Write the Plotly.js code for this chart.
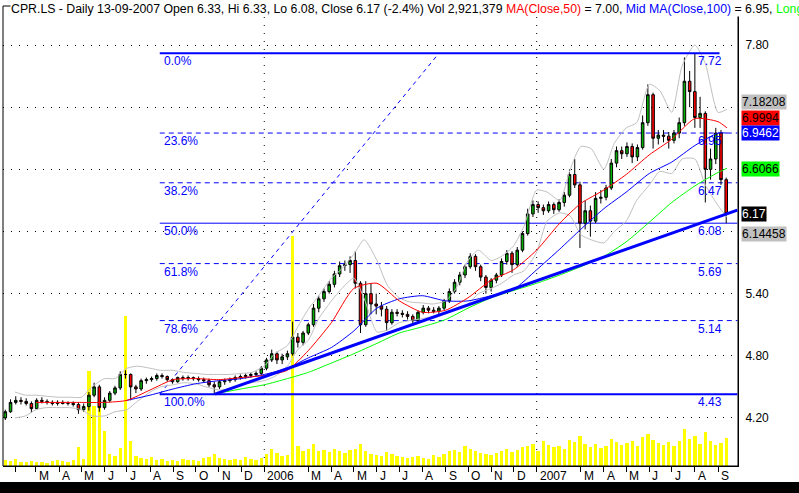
<!DOCTYPE html>
<html><head><meta charset="utf-8">
<script src="https://cdn.plot.ly/plotly-3.0.1.min.js"></script>
<style>html,body{margin:0;padding:0;background:#fff;overflow:hidden}#chart{width:799px;height:493px}</style>
</head><body><div id="chart"></div>
<script>
// ---- weekly candles (Wednesday of each week) ----
const weekDates = [
"2005-01-19","2005-01-26","2005-02-02","2005-02-09","2005-02-16","2005-02-23","2005-03-02","2005-03-09","2005-03-16","2005-03-23","2005-03-30",
"2005-04-06","2005-04-13","2005-04-20","2005-04-27","2005-05-04","2005-05-11","2005-05-18","2005-05-25","2005-06-01","2005-06-08","2005-06-15",
"2005-06-22","2005-06-29","2005-07-06","2005-07-13","2005-07-20","2005-07-27","2005-08-03","2005-08-10","2005-08-17","2005-08-24","2005-08-31",
"2005-09-07","2005-09-14","2005-09-21","2005-09-28","2005-10-05","2005-10-12","2005-10-19","2005-10-26","2005-11-02","2005-11-09","2005-11-16",
"2005-11-23","2005-11-30","2005-12-07","2005-12-14","2005-12-21","2005-12-28",
"2006-01-04","2006-01-11","2006-01-18","2006-01-25","2006-02-01","2006-02-08","2006-02-15","2006-02-22","2006-03-01","2006-03-08","2006-03-15",
"2006-03-22","2006-03-29","2006-04-05","2006-04-12","2006-04-19","2006-04-26","2006-05-03","2006-05-10","2006-05-17","2006-05-24","2006-05-31",
"2006-06-07","2006-06-14","2006-06-21","2006-06-28","2006-07-05","2006-07-12","2006-07-19","2006-07-26","2006-08-02","2006-08-09","2006-08-16",
"2006-08-23","2006-08-30","2006-09-06","2006-09-13","2006-09-20","2006-09-27","2006-10-04","2006-10-11","2006-10-18","2006-10-25","2006-11-01",
"2006-11-08","2006-11-15","2006-11-22","2006-11-29","2006-12-06","2006-12-13","2006-12-20","2006-12-27",
"2007-01-03","2007-01-10","2007-01-17","2007-01-24","2007-01-31","2007-02-07","2007-02-14","2007-02-21","2007-02-28","2007-03-07","2007-03-14",
"2007-03-21","2007-03-28","2007-04-04","2007-04-11","2007-04-18","2007-04-25","2007-05-02","2007-05-09","2007-05-16","2007-05-23","2007-05-30",
"2007-06-06","2007-06-13","2007-06-20","2007-06-27","2007-07-04","2007-07-11","2007-07-18","2007-07-25","2007-08-01","2007-08-08","2007-08-15",
"2007-08-22","2007-08-29","2007-09-05","2007-09-12"];
const openP = [4.20,4.26,4.35,4.37,4.36,4.34,4.29,4.37,4.36,4.35,4.34,4.35,4.34,4.34,4.33,4.28,4.31,4.42,4.50,4.30,4.37,4.44,4.49,4.62,4.62,4.50,4.48,4.56,4.57,4.58,4.61,4.60,4.57,4.55,4.59,4.58,4.59,4.58,4.57,4.56,4.52,4.50,4.55,4.56,4.57,4.59,4.60,4.61,4.62,4.63,
4.68,4.76,4.82,4.76,4.79,4.82,4.98,4.93,5.02,5.10,5.26,5.35,5.42,5.49,5.59,5.67,5.68,5.72,5.50,5.10,5.40,5.30,5.28,5.25,5.12,5.22,5.21,5.20,5.18,5.14,5.22,5.26,5.24,5.23,5.26,5.33,5.42,5.51,5.58,5.66,5.76,5.66,5.56,5.46,5.53,5.58,5.71,5.79,5.68,5.82,5.98,6.17,
6.26,6.23,6.20,6.26,6.21,6.28,6.35,6.55,6.45,6.08,6.20,6.10,6.32,6.33,6.42,6.66,6.78,6.75,6.82,6.72,6.81,7.05,7.32,6.90,6.93,6.92,6.88,6.95,7.05,7.45,7.35,7.10,7.14,6.60,6.70,6.95,6.50];
const highP = [4.28,4.38,4.41,4.40,4.39,4.36,4.39,4.40,4.38,4.37,4.37,4.37,4.36,4.36,4.35,4.34,4.45,4.54,4.52,4.40,4.46,4.51,4.65,4.66,4.63,4.52,4.58,4.59,4.60,4.63,4.63,4.61,4.58,4.60,4.61,4.61,4.60,4.60,4.59,4.58,4.55,4.57,4.58,4.59,4.61,4.62,4.63,4.64,4.65,4.70,
4.78,4.86,4.84,4.82,4.85,5.13,5.02,5.04,5.12,5.30,5.38,5.45,5.52,5.62,5.71,5.72,5.76,5.81,5.52,5.52,5.50,5.40,5.32,5.28,5.25,5.25,5.24,5.23,5.20,5.24,5.29,5.28,5.27,5.28,5.35,5.45,5.54,5.61,5.68,5.79,5.78,5.68,5.58,5.55,5.60,5.74,5.82,5.81,5.85,6.00,6.22,6.30,
6.29,6.26,6.29,6.28,6.31,6.38,6.60,6.70,6.48,6.30,6.25,6.38,6.40,6.45,6.70,6.82,6.82,6.86,6.85,6.84,7.12,7.42,7.34,6.98,6.98,6.96,6.98,7.10,7.68,7.55,7.72,7.30,7.16,6.80,7.00,6.98,6.52];
const lowP = [4.18,4.25,4.33,4.33,4.32,4.25,4.28,4.34,4.33,4.32,4.32,4.33,4.32,4.31,4.24,4.26,4.27,4.40,4.26,4.28,4.35,4.42,4.47,4.58,4.37,4.44,4.46,4.53,4.55,4.56,4.58,4.55,4.53,4.54,4.56,4.56,4.56,4.55,4.54,4.50,4.43,4.48,4.52,4.54,4.55,4.57,4.58,4.59,4.60,4.61,
4.66,4.74,4.72,4.72,4.76,4.80,4.88,4.90,5.00,5.08,5.22,5.32,5.40,5.46,5.56,5.62,5.60,5.45,5.02,5.08,5.20,5.20,5.18,5.04,5.10,5.18,5.17,5.15,5.09,5.12,5.20,5.21,5.21,5.20,5.24,5.31,5.40,5.48,5.55,5.64,5.62,5.52,5.40,5.42,5.50,5.56,5.68,5.60,5.66,5.80,5.96,6.14,
6.18,6.16,6.18,6.17,6.19,6.24,6.33,6.42,5.84,6.02,5.95,6.08,6.27,6.30,6.40,6.62,6.70,6.72,6.66,6.68,6.79,7.02,6.80,6.84,6.86,6.80,6.85,6.90,7.02,7.20,7.00,7.00,6.28,6.50,6.65,6.45,6.08];
const closeP = [4.26,4.35,4.37,4.36,4.34,4.29,4.37,4.36,4.35,4.34,4.35,4.34,4.34,4.33,4.28,4.31,4.42,4.50,4.30,4.37,4.44,4.49,4.62,4.62,4.50,4.48,4.56,4.57,4.58,4.61,4.60,4.57,4.55,4.59,4.58,4.59,4.58,4.57,4.56,4.52,4.50,4.55,4.56,4.57,4.59,4.60,4.61,4.62,4.63,4.68,
4.76,4.82,4.76,4.79,4.82,4.98,4.93,5.02,5.10,5.26,5.35,5.42,5.49,5.59,5.67,5.68,5.72,5.50,5.10,5.40,5.30,5.28,5.25,5.12,5.22,5.21,5.20,5.18,5.14,5.22,5.26,5.24,5.23,5.26,5.33,5.42,5.51,5.58,5.66,5.76,5.66,5.56,5.46,5.53,5.58,5.71,5.79,5.68,5.82,5.98,6.17,6.26,
6.23,6.20,6.26,6.21,6.28,6.35,6.55,6.45,6.08,6.20,6.10,6.32,6.33,6.42,6.66,6.78,6.75,6.82,6.72,6.81,7.05,7.32,6.90,6.93,6.92,6.88,6.95,7.05,7.45,7.35,7.10,7.14,6.60,6.70,6.95,6.50,6.17];
// weekly volume, millions of shares
const volume = [1.2,1.0,1.4,0.8,0.9,1.0,0.8,0.9,0.7,1.0,1.2,1.0,0.9,1.3,
3.8,1.5,19,12,12,7,2.5,2.0,3.6,30,5,
2.0,1.6,1.4,1.8,1.2,1.5,1.0,1.3,1.1,1.4,1.2,1.3,1.0,1.6,1.8,
2.5,1.6,1.4,1.2,1.5,1.3,1.8,1.4,1.2,1.6,
2.5,3.5,2.6,2.0,2.2,46,
4,3,3.5,4.5,3,3.2,2.8,3.5,3.0,2.6,3.2,
3.4,4.5,3.0,2.5,2.2,2.0,2.8,2.4,2.0,1.8,1.6,1.8,2.0,
1.6,1.5,2.2,1.8,2.5,3.0,3.2,2.8,4.0,3.5,3.0,2.6,2.4,2.2,2.6,3.0,3.4,2.8,3.2,3.8,
4.0,4.5,3.0,5.0,4.2,3.8,4.0,3.5,5.2,4.8,6.0,4.5,3.8,4.4,3.6,4.0,5.5,4.8,4.2,4.6,
5.0,4.0,5.8,6.5,5.2,4.6,4.2,4.8,4.0,5.0,7.5,5.5,6.0,4.5,6.8,5.0,4.2,4.6,5.6];

// ---- moving averages (read monthly) ----
const ma50Dates = ["2005-03-01","2005-04-01","2005-05-01","2005-06-01","2005-07-01","2005-08-01","2005-09-01","2005-10-01","2005-11-01","2005-12-01",
"2006-01-01","2006-02-01","2006-03-01","2006-04-01","2006-05-01","2006-06-01","2006-07-01","2006-08-01","2006-09-01","2006-10-01","2006-11-01","2006-12-01",
"2007-01-01","2007-02-01","2007-03-01","2007-04-01","2007-05-01","2007-06-01","2007-07-01","2007-08-01","2007-09-01","2007-09-13"];
const ma50 = [4.35,4.35,4.35,4.35,4.37,4.47,4.57,4.58,4.57,4.59,4.61,4.66,4.85,5.12,5.45,5.50,5.33,5.22,5.24,5.36,5.53,5.63,5.82,6.08,6.27,6.40,6.55,6.74,6.89,7.09,7.06,7.00];
const ma100Dates = ["2005-07-01","2005-08-01","2005-09-01","2005-10-01","2005-11-01","2005-12-01",
"2006-01-01","2006-02-01","2006-03-01","2006-04-01","2006-05-01","2006-06-01","2006-07-01","2006-08-01","2006-09-01","2006-10-01","2006-11-01","2006-12-01",
"2007-01-01","2007-02-01","2007-03-01","2007-04-01","2007-05-01","2007-06-01","2007-07-01","2007-08-01","2007-09-01","2007-09-13"];
const ma100 = [4.37,4.42,4.48,4.53,4.56,4.58,4.62,4.68,4.78,4.88,5.04,5.26,5.35,5.38,5.33,5.33,5.38,5.44,5.63,5.83,6.02,6.22,6.38,6.56,6.67,6.83,6.95,6.95];
const ma200Dates = ["2005-11-01","2005-12-01",
"2006-01-01","2006-02-01","2006-03-01","2006-04-01","2006-05-01","2006-06-01","2006-07-01","2006-08-01","2006-09-01","2006-10-01","2006-11-01","2006-12-01",
"2007-01-01","2007-02-01","2007-03-01","2007-04-01","2007-05-01","2007-06-01","2007-07-01","2007-08-01","2007-09-01","2007-09-13"];
const ma200 = [4.44,4.48,4.52,4.58,4.64,4.73,4.82,4.92,5.02,5.08,5.15,5.26,5.36,5.43,5.50,5.58,5.66,5.76,5.90,6.09,6.28,6.44,6.57,6.61];

// ---- Bollinger bands (read twice a month) ----
const bbDates = ["2005-02-01","2005-02-15","2005-03-01","2005-03-15","2005-04-01","2005-04-15","2005-05-01","2005-05-15","2005-06-01","2005-06-15","2005-07-01","2005-07-15",
"2005-08-01","2005-08-15","2005-09-01","2005-09-15","2005-10-01","2005-10-15","2005-11-01","2005-11-15","2005-12-01","2005-12-15",
"2006-01-01","2006-01-15","2006-02-01","2006-02-15","2006-03-01","2006-03-15","2006-04-01","2006-04-15","2006-05-01","2006-05-15","2006-06-01","2006-06-15",
"2006-07-01","2006-07-15","2006-08-01","2006-08-15","2006-09-01","2006-09-15","2006-10-01","2006-10-15","2006-11-01","2006-11-15","2006-12-01","2006-12-15",
"2007-01-01","2007-01-15","2007-02-01","2007-02-15","2007-03-01","2007-03-15","2007-04-01","2007-04-15","2007-05-01","2007-05-15","2007-06-01","2007-06-15",
"2007-07-01","2007-07-15","2007-08-01","2007-08-15","2007-09-01","2007-09-13"];
const bbUpper = [4.45,4.42,4.42,4.41,4.40,4.40,4.40,4.50,4.58,4.58,4.68,4.70,4.68,4.66,4.66,4.64,4.63,4.62,4.62,4.62,4.63,4.64,
4.70,4.82,4.90,5.08,5.25,5.38,5.55,5.64,5.78,5.92,5.72,5.48,5.36,5.32,5.31,5.30,5.33,5.45,5.72,5.82,5.72,5.76,5.86,6.05,
6.40,6.38,6.30,6.60,6.82,6.80,6.60,6.85,7.00,7.05,7.42,7.36,7.15,7.60,7.80,7.62,7.15,7.18];
const bbLower = [4.20,4.22,4.28,4.30,4.30,4.30,4.28,4.22,4.22,4.26,4.28,4.36,4.45,4.50,4.52,4.54,4.53,4.50,4.47,4.48,4.52,4.54,
4.56,4.60,4.70,4.86,4.95,5.16,5.33,5.45,5.55,5.35,5.03,5.05,5.12,5.14,5.16,5.18,5.21,5.26,5.30,5.40,5.45,5.50,5.58,5.62,
5.80,6.10,6.18,6.15,5.97,5.92,5.89,6.00,6.10,6.30,6.45,6.58,6.56,6.70,6.70,6.45,6.25,6.14];

// ---- Fibonacci retracement & trend lines ----
const fibLabels = ["0.0%","23.6%","38.2%","50.0%","61.8%","78.6%","100.0%"];
const fibPrices = [7.72,6.95,6.47,6.08,5.69,5.14,4.43];
const fibStart = "2005-08-14";
const fibEnds = ["2007-09-03","2007-09-27","2007-09-27","2007-09-27","2007-09-27","2007-09-27","2007-09-27"];
const fibLabelDate = "2007-08-03";
const fanLine = {x:["2005-08-14","2006-08-23"], y:[4.43,7.72]};
const trendLine = {x:["2005-10-27","2007-09-27"], y:[4.43,6.207]};

// ---- last values shown in the price margin ----
const lastLabels = ["7.18208","6.9994","6.9462","6.6066","6.17","6.14458"];
const lastValues = [7.18208,6.9994,6.9462,6.6066,6.17,6.14458];
const lastBg = ["#c0c0c0","#ff0000","#0000ff","#00ff00","#000000","#c0c0c0"];
const lastFg = ["#000000","#000000","#ffffff","#000000","#ffffff","#000000"];
const lastShift = [7,10,0,0,0,-17];

// ---- axis ----
const priceTicks = [4.20,4.80,5.40,6.00,6.60,7.20,7.80];
const priceTickText = ["4.20","4.80","5.40","","","","7.80"]; // 6.00, 6.60, 7.20 are covered by the value boxes
const monthTicks = ["2005-02-01","2005-03-01","2005-04-01","2005-05-01","2005-06-01","2005-07-01","2005-08-01","2005-09-01","2005-10-01","2005-11-01","2005-12-01",
"2006-01-01","2006-03-01","2006-04-01","2006-05-01","2006-06-01","2006-07-01","2006-08-01","2006-09-01","2006-10-01","2006-11-01","2006-12-01",
"2007-01-01","2007-03-01","2007-04-01","2007-05-01","2007-06-01","2007-07-01","2007-08-01","2007-09-01"];
const monthLabels = ["","M","A","M","J","J","A","S","O","N","D","2006","M","A","M","J","J","A","S","O","N","D","2007","M","A","M","J","J","A","S"];
const yearLines = ["2006-01-01","2007-01-01"];

const FONT = "Liberation Sans, Arial, sans-serif";
const traces = [
  {type:"bar", x:weekDates, y:volume, xaxis:"x", yaxis:"y", marker:{color:"#ffff00", line:{width:0}}, width:4.5*86400000, hoverinfo:"skip"},
  {type:"scatter", mode:"lines", x:bbDates, y:bbUpper, yaxis:"y2", line:{color:"#c0c0c0", width:1, shape:"spline", smoothing:0.6}},
  {type:"scatter", mode:"lines", x:bbDates, y:bbLower, yaxis:"y2", line:{color:"#c0c0c0", width:1, shape:"spline", smoothing:0.6}},
  {type:"scatter", mode:"lines", x:ma200Dates, y:ma200, yaxis:"y2", line:{color:"#00ff00", width:1, shape:"spline", smoothing:0.6}},
  {type:"scatter", mode:"lines", x:ma100Dates, y:ma100, yaxis:"y2", line:{color:"#0000ff", width:1, shape:"spline", smoothing:0.6}},
  {type:"scatter", mode:"lines", x:ma50Dates, y:ma50, yaxis:"y2", line:{color:"#ff0000", width:1, shape:"spline", smoothing:0.6}},
  {type:"candlestick", x:weekDates, open:openP, high:highP, low:lowP, close:closeP, yaxis:"y2",
   increasing:{fillcolor:"#00b000", line:{color:"#000000", width:1}},
   decreasing:{fillcolor:"#ff0000", line:{color:"#000000", width:1}}, whiskerwidth:0, hoverinfo:"skip"}
];

const shapes = [];
shapes.push({type:"rect", xref:"paper", yref:"paper", x0:0, x1:1, y0:0, y1:1, line:{color:"#000", width:1}, layer:"above"});
yearLines.forEach(d => shapes.push({type:"line", xref:"x", yref:"paper", x0:d, x1:d, y0:0, y1:1, line:{color:"#000", width:1, dash:"1px,7px"}, layer:"below"}));
fibPrices.forEach((p,i) => {
  let w = 1, dash = "5px,4px";
  if (i === 0 || i === 6) { w = 2; dash = "solid"; }
  if (i === 3) { dash = "solid"; }
  shapes.push({type:"line", xref:"x", yref:"y2", x0:fibStart, x1:fibEnds[i], y0:p, y1:p, line:{color:"#0000ff", width:w, dash:dash}, layer: (i===0||i===6)?"above":"below"});
});
shapes.push({type:"line", xref:"x", yref:"y2", x0:fanLine.x[0], x1:fanLine.x[1], y0:fanLine.y[0], y1:fanLine.y[1], line:{color:"#0000ff", width:1, dash:"4px,4px"}, layer:"below"});
shapes.push({type:"line", xref:"x", yref:"y2", x0:trendLine.x[0], x1:trendLine.x[1], y0:trendLine.y[0], y1:trendLine.y[1], line:{color:"#0000ff", width:3}, layer:"above"});
shapes.push({type:"rect", xref:"paper", yref:"paper", x0:-0.01, x1:1.1, y0:-0.0348, y1:-0.08, fillcolor:"#000", line:{width:0}, layer:"above"});

const annotations = [];
annotations.push({xref:"paper", yref:"paper", x:0.0095, y:0.9935, xanchor:"left", yanchor:"middle", showarrow:false, bgcolor:"#ffffff", borderpad:0,
  font:{family:FONT, size:12.3, color:"#000"},
  text:'CPR.LS - Daily 13-09-2007 Open 6.33, Hi 6.33, Lo 6.08, Close 6.17 (-2.4%) Vol 2,921,379 <span style="color:#ff0000">MA(Close,50)</span> = 7.00, <span style="color:#0000ff">Mid MA(Close,100)</span> = 6.95, <span style="color:#00ff00">Long MA(Close,200)</span> = 6.61'});
fibPrices.forEach((p,i) => {
  annotations.push({xref:"x", yref:"y2", x:fibStart, y:p, xanchor:"left", yanchor:"middle", yshift:-8, xshift:2, showarrow:false, text:fibLabels[i], font:{family:FONT, size:12, color:"#0000ff"}});
  annotations.push({xref:"x", yref:"y2", x:fibLabelDate, y:p, xanchor:"left", yanchor:"middle", yshift:-8, showarrow:false, text:p.toFixed(2), font:{family:FONT, size:12, color:"#0000ff"}});
});
lastLabels.forEach((t,i) => {
  annotations.push({xref:"paper", yref:"y2", x:1.004, y:lastValues[i], yshift:lastShift[i], xanchor:"left", yanchor:"middle", showarrow:false, text:t, bgcolor:lastBg[i], borderpad:0,
    font:{family:FONT, size:12, color:lastFg[i]}});
});
monthTicks.forEach((d,i) => {
  if (monthLabels[i]) annotations.push({xref:"x", yref:"paper", x:d, y:-0.0217, xanchor:"left", yanchor:"middle", xshift:1, showarrow:false, text:monthLabels[i], font:{family:FONT, size:12, color:"#000"}});
});

const layout = {
  width:799, height:493,
  margin:{l:3, r:61, t:6, b:27, pad:0},
  paper_bgcolor:"#ffffff", plot_bgcolor:"#ffffff",
  showlegend:false, hovermode:false,
  font:{family:FONT, size:12, color:"#000"},
  bargap:0,
  xaxis:{type:"date", range:["2005-01-15 22:00","2007-09-27 19:00"], rangeslider:{visible:false}, showgrid:false, zeroline:false,
    tickvals:monthTicks, ticktext:monthLabels, showticklabels:false, ticks:"outside", ticklen:5, tickcolor:"#000", tickwidth:1,
    showline:true, linecolor:"#000", linewidth:1},
  yaxis:{range:[0,92], visible:false, fixedrange:true},
  yaxis2:{overlaying:"y", side:"right", range:[3.7363,8.1765], tickvals:priceTicks, ticktext:priceTickText,
    showgrid:true, gridcolor:"#000", gridwidth:1, griddash:"1px,7px", zeroline:false, showline:true, linecolor:"#000", linewidth:1,
    ticks:"", ticklabelstandoff:4, tickfont:{family:FONT, size:12, color:"#000"}},
  shapes:shapes, annotations:annotations
};
Plotly.newPlot("chart", traces, layout, {staticPlot:true, displayModeBar:false});
</script></body></html>
